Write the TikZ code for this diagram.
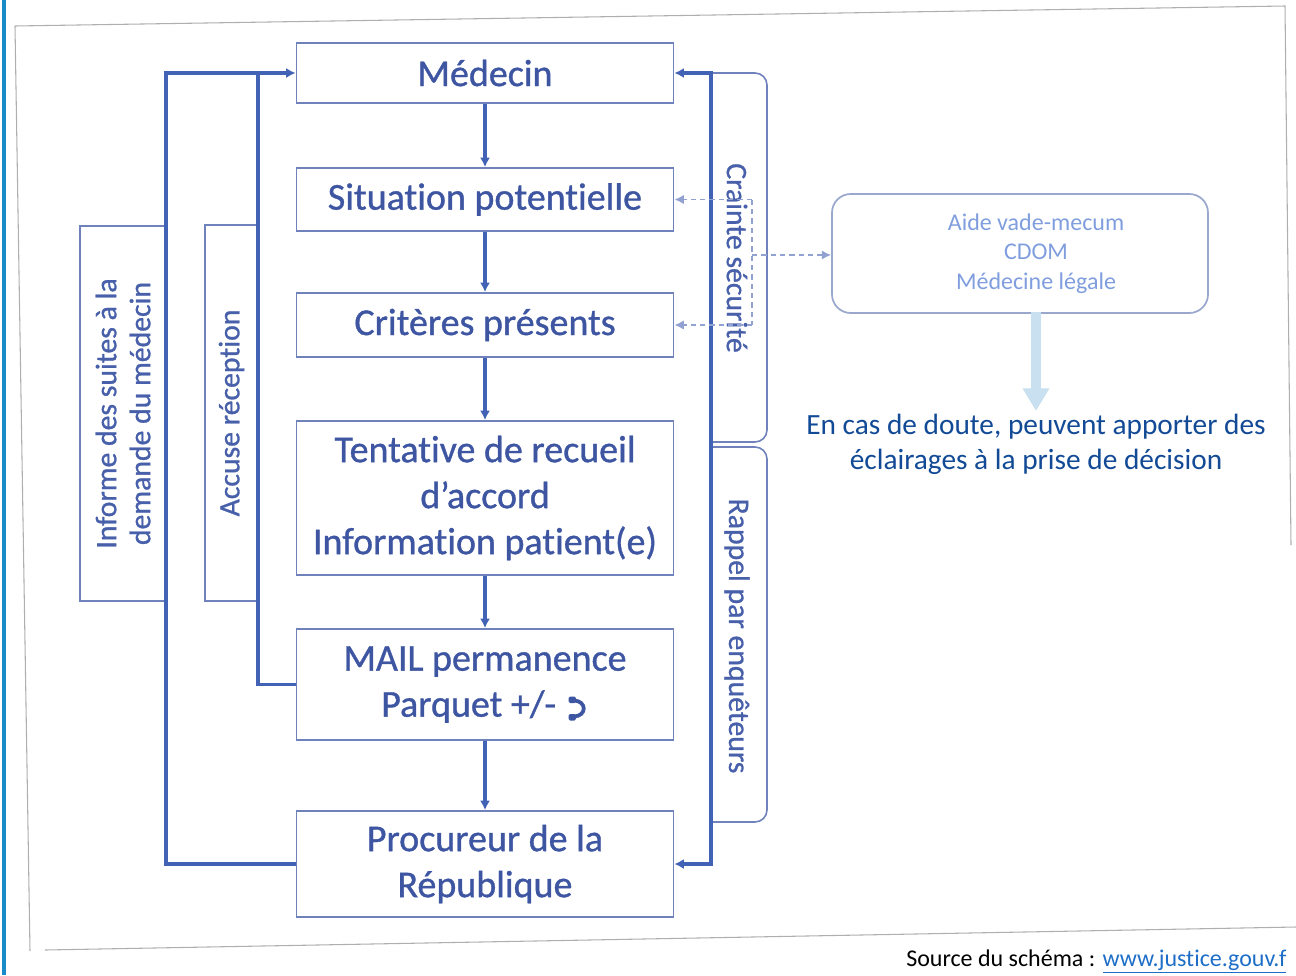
\documentclass[tikz,border=0pt]{standalone}
\usepackage{fontspec}
\setmainfont[Ligatures=NoCommon]{Carlito}
\newfontfamily\scanfont[Ligatures=NoCommon,FakeBold=0.9]{Carlito}
\usetikzlibrary{arrows.meta}
\definecolor{txtc}{RGB}{62,86,162}
\definecolor{boxc}{RGB}{112,130,188}
\definecolor{connc}{RGB}{66,98,182}
\definecolor{sidec}{RGB}{72,96,170}
\definecolor{dashc}{RGB}{145,162,210}
\definecolor{aidec}{RGB}{128,158,222}
\definecolor{aideb}{RGB}{155,168,206}
\definecolor{fatc}{RGB}{200,224,240}
\definecolor{doutec}{RGB}{18,74,150}
\definecolor{linkc}{RGB}{30,110,200}
\definecolor{barc}{RGB}{25,140,200}
\definecolor{framec}{RGB}{175,175,175}
\newcommand\fMain{\scanfont\fontsize{28.5}{34.5}\selectfont}
\newcommand\fSide{\scanfont\fontsize{22.3}{25.5}\selectfont}
\newcommand\fAide{\fontsize{18}{22}\selectfont}
\newcommand\fDoute{\fontsize{22}{26.3}\selectfont}
\newcommand\fSrc{\fontsize{18}{22}\selectfont}
\tikzset{
  mainbox/.style={draw=boxc, line width=1.4pt, text=txtc, font=\fMain, align=center, inner sep=0pt, minimum width=282.75pt},
  sidebox/.style={draw=boxc, line width=1.2pt, text=sidec, font=\fSide, align=center, inner sep=0pt},
  sidetext/.style={text=sidec, font=\fSide, align=center, inner sep=0pt},
  conn/.style={draw=connc, line width=2.4pt},
  flow/.style={conn, -{Latex[length=7pt,width=7.5pt]}},
  dashline/.style={draw=dashc, line width=1.3pt, dash pattern=on 4pt off 3pt},
  dasharrow/.style={dashline, -{Latex[length=7pt,width=7pt]}},
}
\begin{document}
\begin{tikzpicture}[x=0.75pt,y=-0.75pt]
\useasboundingbox (0,0) rectangle (1296,975);
% page frame and side bar
\fill[barc] (2,0) rectangle (6,975);
\draw[framec, line width=0.8pt] (15,26) -- (1285,6) -- (1291,545);
\draw[framec, line width=0.8pt] (15,26) -- (30,951);
\draw[framec, line width=0.8pt] (45,950) -- (1296,927);

% main chain
\node[mainbox, minimum height=45pt] (med) at (485,73) {Médecin};
\node[mainbox, minimum height=47.25pt] (sit) at (485,199.5) {Situation potentielle};
\node[mainbox, minimum height=48pt] (crit) at (485,325) {Critères présents};
\node[mainbox, minimum height=115.5pt] (tent) at (485,498) {Tentative de recueil\\d’accord\\Information patient(e)};
\node[mainbox, minimum height=83.25pt] (mail) at (485,684.5) {MAIL permanence\\Parquet +/- \rule{18pt}{0pt}};
\node[mainbox, minimum height=79.5pt] (proc) at (485,864) {Procureur de la\\République};
% phone handset
\draw[txtc, line width=2.8pt] (574,700.5) .. controls (587,701) and (587,716) .. (574,716.5);
\fill[txtc, rounded corners=1.2pt] (568.5,696.5) rectangle (576,703);
\fill[txtc, rounded corners=1.2pt] (568.5,714) rectangle (576,720.5);

\draw[flow] (med) -- (sit);
\draw[flow] (sit) -- (crit);
\draw[flow] (crit) -- (tent);
\draw[flow] (tent) -- (mail);
\draw[flow] (mail) -- (proc);

% left side
\node[sidebox, rotate=90, minimum width=281.25pt, minimum height=64.5pt] (inf) at (123,413.5) {Informe des suites à la\\demande du médecin};
\node[sidebox, rotate=90, minimum width=282pt, minimum height=39.75pt] (acc) at (231.5,413) {Accuse réception};
\coordinate (lo) at (166,0);
\coordinate (li) at (258,0);
\draw[conn, -{Latex[length=7pt,width=7.5pt]}] (proc.west) -| (lo |- med.west) -- (med.west);
\draw[conn] (mail.west) -| (li |- med.west);

% right side
\coordinate (ro) at (711,0);
\node[sidetext, rotate=-90] (crainte) at (737,258) {Crainte sécurité};
\node[sidetext, rotate=-90] (rappel) at (737,636) {Rappel par enquêteurs};
\draw[boxc, line width=1.2pt, rounded corners=9pt] (ro |- med.east) -- (767,73) -- (767,442) -- (711,442);
\draw[boxc, line width=1.2pt, rounded corners=9pt] (711,447) -- (767,447) -- (767,822) -- (711,822);
\draw[conn, {Latex[length=7pt,width=7.5pt]}-{Latex[length=7pt,width=7.5pt]}] (med.east) -- (ro |- med.east) -- (ro |- proc.east) -- (proc.east);

% dashed links
\coordinate (dA) at (752,199.5);
\coordinate (dB) at (752,325);
\coordinate (dM) at (752,255);
\draw[dasharrow] (dA) -- (sit.east);
\draw[dasharrow] (dB) -- (crit.east);
\draw[dashline] (dA) -- (dB);

% aide box
\node[draw=aideb, line width=1.3pt, rounded corners=14pt, minimum width=282pt, minimum height=89.25pt, inner sep=0pt] (aide) at (1020,253.5) {};
\node[text=aidec, font=\fAide, align=center, inner sep=0pt] (aidetxt) at (1036,253.5) {Aide vade-mecum\\CDOM\\Médecine légale};
\draw[dasharrow] (dM) -- (aide.west |- dM);

% fat arrow and doute text
\node[text=doutec, font=\fDoute, align=center, inner sep=0pt] (doute) at (1036,444.5) {En cas de doute, peuvent apporter des\\éclairages à la prise de décision};
\coordinate (fs) at (1036,312);
\coordinate (fe) at (1036,411);
\draw[fatc, line width=7.5pt, -{Triangle[length=17pt,width=19pt]}] (fs) -- (fe);

% source
\node[anchor=base west, font=\fSrc, inner sep=0pt] (src) at (906,966) {Source du schéma : \textcolor{linkc}{\underline{www.justice.gouv.f}}};
\end{tikzpicture}
\end{document}
